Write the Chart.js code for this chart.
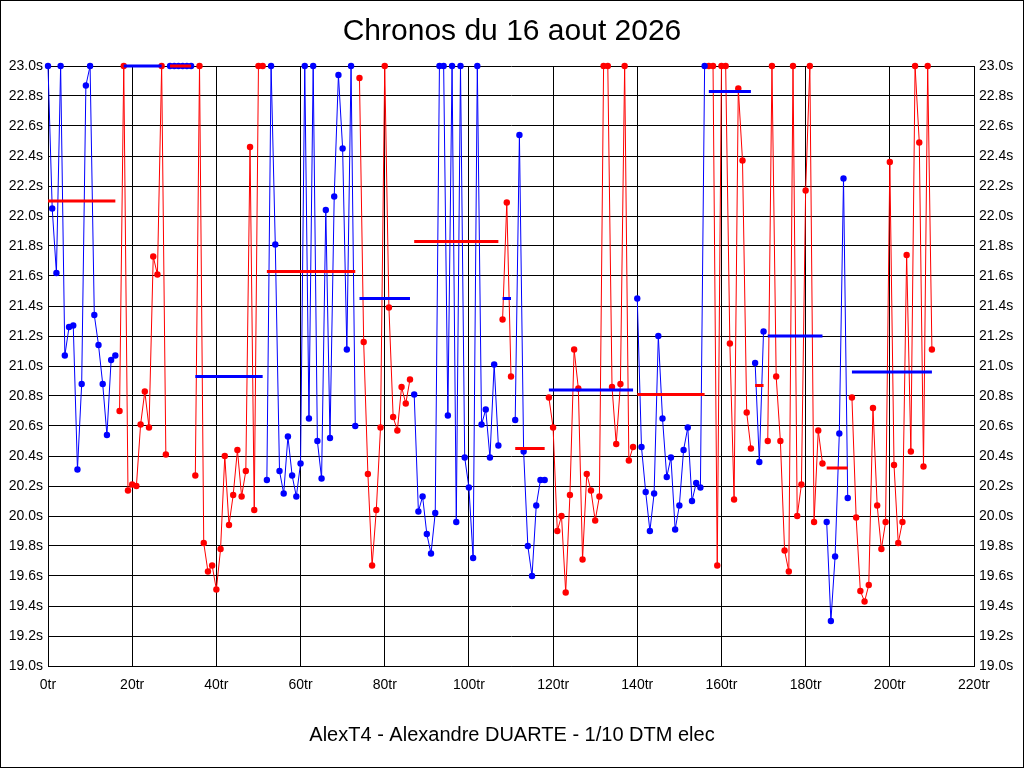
<!DOCTYPE html>
<html>
<head>
<meta charset="utf-8">
<title>Chronos du 16 aout 2026</title>
<script src="https://cdn.jsdelivr.net/npm/chart.js@4.4.1/dist/chart.umd.min.js"></script>
<style>
  html, body { margin: 0; padding: 0; background: #ffffff; overflow: hidden; }
  #wrap { width: 1024px; height: 768px; position: relative; }
  canvas { display: block; }
</style>
</head>
<body>
<div id="wrap"><canvas id="c" width="1024" height="768"></canvas></div>
<script>
// ---- Data (lap times in seconds, values shown capped at 23.0s) ----
const titleText = "Chronos du 16 aout 2026";
const driverText = "AlexT4 - Alexandre DUARTE - 1/10 DTM elec";

const xTicks = [0, 20, 40, 60, 80, 100, 120, 140, 160, 180, 200, 220];
const yTicks = [19.0, 19.2, 19.4, 19.6, 19.8, 20.0, 20.2, 20.4, 20.6, 20.8, 21.0,
                21.2, 21.4, 21.6, 21.8, 22.0, 22.2, 22.4, 22.6, 22.8, 23.0];

// first lap number of each run
const runStart = [0, 17, 29, 35, 52, 74, 87, 108, 111, 119, 140, 157, 168, 171, 185, 191];

const run1  = [23.0, 22.05, 21.62, 23.0, 21.07, 21.26, 21.27, 20.31, 20.88, 22.87, 23.0, 21.34, 21.14, 20.88, 20.54, 21.04, 21.07];
const run2  = [20.70, 23.0, 20.17, 20.21, 20.20, 20.61, 20.83, 20.59, 21.73, 21.61, 23.0, 20.41];
const run3  = [23.0, 23.0, 23.0, 23.0, 23.0, 23.0];
const run4  = [20.27, 23.0, 19.82, 19.63, 19.67, 19.51, 19.78, 20.40, 19.94, 20.14, 20.44, 20.13, 20.30, 22.46, 20.04, 23.0, 23.0];
const run5  = [20.24, 23.0, 21.81, 20.30, 20.15, 20.53, 20.27, 20.13, 20.35, 23.0, 20.65, 23.0, 20.50, 20.25, 22.04, 20.52, 22.13, 22.94, 22.45, 21.11, 23.0, 20.60];
const run6  = [22.92, 21.16, 20.28, 19.67, 20.04, 20.59, 23.0, 21.39, 20.66, 20.57, 20.86, 20.75, 20.91];
const run7  = [20.81, 20.03, 20.13, 19.88, 19.75, 20.02, 23.0, 23.0, 20.67, 23.0, 19.96, 23.0, 20.39, 20.19, 19.72, 23.0, 20.61, 20.71, 20.39, 21.01, 20.47];
const run8  = [21.31, 22.09, 20.93];
const run9  = [20.64, 22.54, 20.43, 19.80, 19.60, 20.07, 20.24, 20.24];
const run10 = [20.79, 20.59, 19.90, 20.00, 19.49, 20.14, 21.11, 20.85, 19.71, 20.28, 20.17, 19.97, 20.13, 23.0, 23.0, 20.86, 20.48, 20.88, 23.0, 20.37, 20.46];
const run11 = [21.45, 20.46, 20.16, 19.90, 20.15, 21.20, 20.65, 20.26, 20.39, 19.91, 20.07, 20.44, 20.59, 20.10, 20.22, 20.19, 23.0];
const run12 = [23.0, 23.0, 19.67, 23.0, 23.0, 21.15, 20.11, 22.85, 22.37, 20.69, 20.45];
const run13 = [21.02, 20.36, 21.23];
const run14 = [20.50, 23.0, 20.93, 20.50, 19.77, 19.63, 23.0, 20.00, 20.21, 22.17, 23.0, 19.96, 20.57, 20.35];
const run15 = [19.96, 19.30, 19.73, 20.55, 22.25, 20.12];
const run16 = [20.79, 19.99, 19.50, 19.43, 19.54, 20.72, 20.07, 19.78, 19.96, 22.36, 20.34, 19.82, 19.96, 21.74, 20.43, 23.0, 22.49, 20.33, 23.0, 21.11];

const runs = [run1, run2, run3, run4, run5, run6, run7, run8, run9, run10, run11, run12, run13, run14, run15, run16];

// average line of each run (lap range and value as drawn)
const avgStart = [0, 18, 29, 35, 52, 74, 87, 108, 111, 119, 140, 157, 168, 171, 185, 191];
const avgEnd   = [16, 27, 34, 51, 73, 86, 107, 110, 118, 139, 156, 167, 170, 184, 190, 210];
const avgValue = [22.10, 23.0, 23.0, 20.93, 21.63, 21.45, 21.83, 21.45, 20.45, 20.84, 20.81, 22.83, 20.87, 21.20, 20.32, 20.96];

// ---- Build chart ----
const BLUE = '#0000ff';
const RED = '#ff0000';
const FONT = "'Liberation Sans', Arial, Helvetica, sans-serif";

const datasets = [];
runs.forEach((vals, i) => {
  const col = (i % 2 === 0) ? BLUE : RED;
  datasets.push({
    data: vals.map((v, k) => ({ x: runStart[i] + k, y: v })),
    borderColor: col,
    backgroundColor: col,
    borderWidth: 1,
    pointRadius: 3.2,
    pointBorderWidth: 0,
    pointBackgroundColor: col,
    pointHoverRadius: 3.2,
    tension: 0,
    fill: false,
    clip: false,
    order: 2
  });
});
avgValue.forEach((v, i) => {
  const col = (i % 2 === 0) ? RED : BLUE;
  datasets.push({
    data: [{ x: avgStart[i], y: v }, { x: avgEnd[i], y: v }],
    borderColor: col,
    backgroundColor: col,
    borderWidth: 3,
    pointRadius: 0,
    pointHoverRadius: 0,
    tension: 0,
    fill: false,
    clip: false,
    order: 1
  });
});

const frame = {
  id: 'frame',
  beforeDraw(chart) {
    const ctx = chart.ctx;
    ctx.save();
    ctx.fillStyle = '#ffffff';
    ctx.fillRect(0, 0, chart.width, chart.height);
    ctx.restore();
  },
  afterDraw(chart) {
    const ctx = chart.ctx;
    ctx.save();
    ctx.strokeStyle = '#000000';
    ctx.lineWidth = 1;
    ctx.strokeRect(0.5, 0.5, chart.width - 1, chart.height - 1);
    ctx.restore();
  }
};

const yTickSetter = (scale) => { scale.ticks = yTicks.map(v => ({ value: v })); };
const xTickSetter = (scale) => { scale.ticks = xTicks.map(v => ({ value: v })); };

new Chart(document.getElementById('c'), {
  type: 'line',
  data: { datasets },
  plugins: [frame],
  options: {
    responsive: false,
    animation: false,
    devicePixelRatio: 1,
    events: [],
    layout: { padding: 0 },
    plugins: {
      legend: { display: false },
      tooltip: { enabled: false },
      title: {
        display: true,
        text: titleText,
        color: '#000000',
        font: { family: FONT, size: 30, weight: 'normal', lineHeight: 1.2 },
        padding: { top: 14, bottom: 16 }
      },
      subtitle: {
        display: true,
        position: 'bottom',
        text: driverText,
        color: '#000000',
        font: { family: FONT, size: 20, weight: 'normal', lineHeight: 1.2 },
        padding: { top: 17, bottom: 21 }
      }
    },
    scales: {
      x: {
        type: 'linear',
        min: 0,
        max: 220,
        afterBuildTicks: xTickSetter,
        afterFit: (s) => { s.height = 40; },
        grid: { color: '#000000', lineWidth: 1, drawTicks: false },
        border: { color: '#000000', width: 1 },
        ticks: {
          color: '#000000',
          padding: 11,
          maxRotation: 0,
          autoSkip: false,
          font: { family: FONT, size: 14 },
          callback: (v) => v + 'tr'
        }
      },
      y: {
        type: 'linear',
        position: 'left',
        min: 19,
        max: 23,
        afterBuildTicks: yTickSetter,
        afterFit: (s) => { s.width = 48; },
        grid: { color: '#000000', lineWidth: 1, drawTicks: false },
        border: { color: '#000000', width: 1 },
        ticks: {
          color: '#000000',
          padding: 5,
          autoSkip: false,
          font: { family: FONT, size: 14 },
          callback: (v) => Number(v).toFixed(1) + 's'
        }
      },
      y2: {
        type: 'linear',
        position: 'right',
        min: 19,
        max: 23,
        afterBuildTicks: yTickSetter,
        afterFit: (s) => { s.width = 50; },
        grid: { display: false, drawTicks: false },
        border: { color: '#000000', width: 1 },
        ticks: {
          color: '#000000',
          padding: 5,
          autoSkip: false,
          font: { family: FONT, size: 14 },
          callback: (v) => Number(v).toFixed(1) + 's'
        }
      }
    }
  }
});
</script>
</body>
</html>
